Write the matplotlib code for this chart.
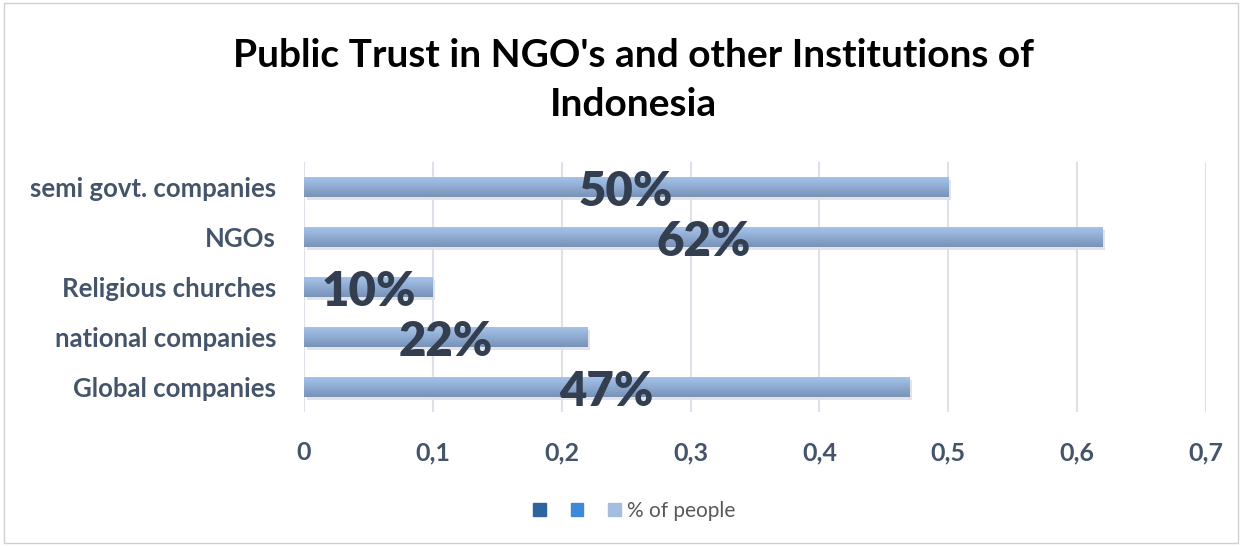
import numpy as np
import matplotlib.pyplot as plt
from matplotlib.patches import Rectangle
from matplotlib.colors import LinearSegmentedColormap

categories = ["Global companies", "national companies", "Religious churches", "NGOs", "semi govt. companies"]
values = [0.47, 0.22, 0.10, 0.62, 0.50]
value_labels = ["47%", "22%", "10%", "62%", "50%"]
xticks = [0, 0.1, 0.2, 0.3, 0.4, 0.5, 0.6, 0.7]
xtick_labels = ["0", "0,1", "0,2", "0,3", "0,4", "0,5", "0,6", "0,7"]
legend_labels = ["", "", "% of people"]

plt.rcParams['font.family'] = ['Lato', 'DejaVu Sans']
txt = '#44546a'

fig = plt.figure(figsize=(12.49, 5.46), dpi=100)
ax = fig.add_axes([304 / 1249, 1 - 412 / 546, 902 / 1249, 250 / 546])

y = np.arange(len(categories))
bars = ax.barh(y, values, height=0.4, color='#93b0da', zorder=2)

# gradient fill + soft shadow for each bar
grad = np.linspace(0, 1, 64).reshape(-1, 1)
cmap = LinearSegmentedColormap.from_list('bar', ['#7892b8', '#a5c3ea'])
for b, lbl in zip(bars, value_labels):
    x0, y0, w, h = b.get_x(), b.get_y(), b.get_width(), b.get_height()
    ax.add_patch(Rectangle((x0 + 0.002, y0 - 0.06), w, h, color='#b0b0b0', alpha=0.35, zorder=1, lw=0))
    im = ax.imshow(grad, extent=(x0, x0 + w, y0, y0 + h), cmap=cmap, aspect='auto', zorder=3, origin='lower')
    im.set_clip_path(b)
    ax.text(x0 + w / 2, y0 + h / 2 - 0.1, lbl, ha='center', va='center',
            fontsize=34, fontweight='heavy', color='#333f50', zorder=4)

ax.set_xlim(0, 0.7)
ax.set_ylim(-0.5, len(categories) - 0.5)
ax.set_xticks(xticks)
ax.set_xticklabels(xtick_labels)
ax.set_yticks(y)
ax.set_yticklabels(categories)
ax.tick_params(axis='x', length=0, pad=21, labelsize=18, labelcolor=txt)
ax.tick_params(axis='y', length=0, pad=20, labelsize=18.5, labelcolor=txt)
for lab in ax.get_xticklabels() + ax.get_yticklabels():
    lab.set_fontweight('bold')
ax.grid(axis='x', color='#dde2ea', lw=1.5, zorder=0)
for s in ax.spines.values():
    s.set_visible(False)

fig.text(0.507, 1 - 80 / 546, "Public Trust in NGO's and other Institutions of\nIndonesia", ha='center', va='center',
         fontsize=28, fontweight='bold', color='black', linespacing=1.45)

handles = [Rectangle((0, 0), 1, 1, color=c) for c in ['#2e64a0', '#3d8ad8', '#a4bde0']]
fig.legend(handles, legend_labels, loc='center', bbox_to_anchor=(0.508, 1 - 511 / 546), ncol=3, frameon=False,
           fontsize=15, labelcolor='#595959', handlelength=0.6, handleheight=0.6, columnspacing=0.9, handletextpad=0.3)

fig.patches.append(Rectangle((0.003, 0.005), 0.988, 0.99, transform=fig.transFigure, fill=False,
                             edgecolor='#d0d0d0', lw=1))

fig.savefig('out.png', dpi=100)
